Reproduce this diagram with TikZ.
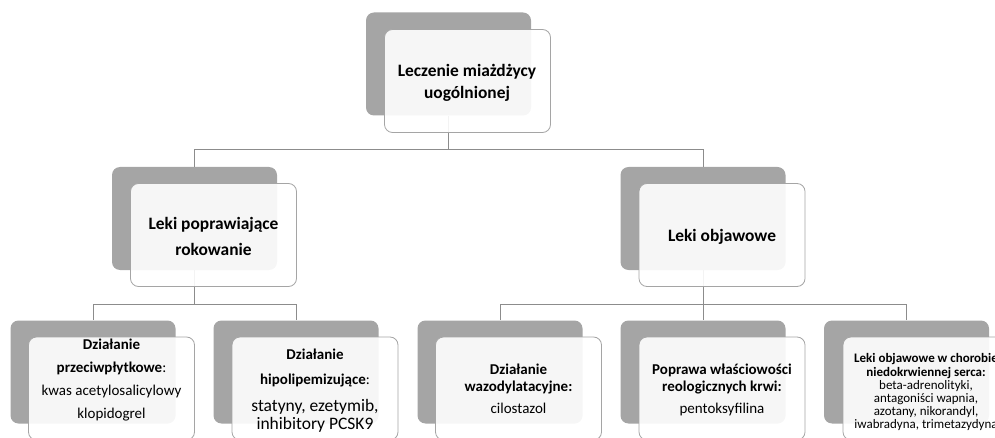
\documentclass[tikz,border=0pt]{standalone}
\usepackage{fontspec}
\setmainfont{Carlito}
\definecolor{boxgrey}{HTML}{A5A5A5}
\definecolor{linegrey}{HTML}{8C8C8C}
\tikzset{
  greybox/.style={fill=boxgrey, draw=none, rounded corners=8pt, minimum width=165pt, minimum height=103pt, inner sep=0pt},
  whitebox/.style={fill=white, fill opacity=0.9, draw=boxgrey, line width=0.8pt, rounded corners=8pt, minimum width=166pt, minimum height=103pt, inner sep=0pt},
  lbl/.style={align=center, anchor=base, inner sep=0pt, text=black},
  conn/.style={draw=linegrey, line width=1pt}
}
\newcommand{\fs}[2]{\fontsize{#1}{#2}\selectfont}
\begin{document}
\begin{tikzpicture}[x=1pt,y=-1pt]
\useasboundingbox (0,0) rectangle (995,438);
\clip (0,0) rectangle (995,438);
% grey back boxes
\node[greybox] (g0) at (448.5,64) {};
\node[greybox] (g1) at (194.5,218.5) {};
\node[greybox] (g2) at (703,218.5) {};
\node[greybox] (g3) at (93,372) {};
\node[greybox] (g4) at (296,372) {};
\node[greybox] (g5) at (500,372) {};
\node[greybox] (g6) at (703,372) {};
\node[greybox] (g7) at (906.5,372) {};
% connectors
\draw[conn] (g0.south) -- ++(0,34) -| (g1.north);
\draw[conn] (g0.south) -- ++(0,34) -| (g2.north);
\draw[conn] (g1.south) -- ++(0,34) -| (g3.north);
\draw[conn] (g1.south) -- ++(0,34) -| (g4.north);
\draw[conn] (g2.south) -- ++(0,34) -| (g5.north);
\draw[conn] (g2.south) -- ++(0,34) -| (g6.north);
\draw[conn] (g2.south) -- ++(0,34) -| (g7.north);
% white front boxes
\node[whitebox] (w0) at (467.5,81) {};
\node[whitebox] (w1) at (213.5,235) {};
\node[whitebox] (w2) at (722,235) {};
\node[whitebox] (w3) at (111.5,388.5) {};
\node[whitebox] (w4) at (315,388.5) {};
\node[whitebox] (w5) at (518.5,388.5) {};
\node[whitebox] (w6) at (722,388.5) {};
\node[whitebox] (w7) at (926,388.5) {};
% texts (anchor base = last line baseline)
\node[lbl, font=\fs{17.4}{22}\bfseries] (t0) at (467,99) {Leczenie miażdżycy\\uogólnionej};
\node[lbl, font=\fs{17.4}{26}\bfseries] (t1) at (213.5,255) {Leki poprawiające\\rokowanie};
\node[lbl, font=\fs{17.4}{22}\bfseries] (t2) at (722,242) {Leki objawowe};
\node[lbl, font=\fs{15}{23}] (t3) at (111.5,418) {\textbf{Działanie}\\\textbf{przeciwpłytkowe}:\\kwas acetylosalicylowy\\klopidogrel};
\node[lbl, font=\fs{15}{25}] (t4) at (315,429) {\textbf{Działanie}\\\textbf{hipolipemizujące}:\\[2pt]{\fs{17.5}{18}statyny, ezetymib,}\\[-7pt]{\fs{17.5}{18}inhibitory PCSK9}};
\node[lbl, font=\fs{15}{17}] (t5) at (518.5,413) {\textbf{Działanie}\\\textbf{wazodylatacyjne:}\\[5pt]cilostazol};
\node[lbl, font=\fs{15}{17}] (t6) at (722,413) {\textbf{Poprawa właściowości}\\\textbf{reologicznych krwi:}\\[5pt]pentoksyfilina};
\node[lbl, font=\fs{13}{14}] (t7) at (926,428) {\textbf{Leki objawowe w chorobie}\\\textbf{niedokrwiennej serca:}\\[-1pt]{\fs{13}{13}beta-adrenolityki,}\\[-1pt]{\fs{13}{13}antagoniści wapnia,}\\[-1pt]{\fs{13}{13}azotany, nikorandyl,}\\[-1pt]{\fs{13}{13}iwabradyna, trimetazydyna}};
\end{tikzpicture}
\end{document}
